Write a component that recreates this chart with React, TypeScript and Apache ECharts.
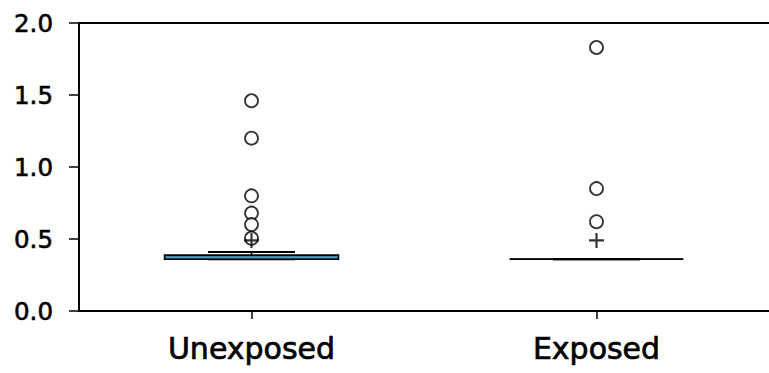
import React, { useEffect, useRef } from "react";
import * as echarts from "echarts";

const categories = ["Unexposed", "Exposed"];
const whiskerLow = [0.36, 0.36];
const q1 = [0.36, 0.36];
const median = [0.37, 0.36];
const q3 = [0.388, 0.36];
const whiskerHigh = [0.41, 0.36];
const means = [0.49, 0.49];
const outliersUnexposed = [1.46, 1.2, 0.8, 0.68, 0.6, 0.505];
const outliersExposed = [1.83, 0.85, 0.62];
const yMin = 0;
const yMax = 2;
const yInterval = 0.5;

const FONT = "DejaVu Sans";

export default function App() {
  const ref = useRef<HTMLDivElement>(null);
  useEffect(() => {
    document.body.style.margin = "0";
    if (!ref.current) return;
    const chart = echarts.init(ref.current, null, { renderer: "svg" });
    const boxData = categories.map((_, i) => [
      i,
      whiskerLow[i],
      q1[i],
      median[i],
      q3[i],
      whiskerHigh[i],
    ]);
    const outlierData = [
      ...outliersUnexposed.map((v) => [0, v]),
      ...outliersExposed.map((v) => [1, v]),
    ];
    const meanData = means.map((v, i) => [i, v]);
    chart.setOption({
      animation: false,
      backgroundColor: "#ffffff",
      grid: { left: 79, right: 0, top: 23, bottom: 62, containLabel: false },
      xAxis: [
        {
          type: "category",
          data: categories,
          boundaryGap: true,
          axisLine: { show: true, lineStyle: { color: "#000", width: 2 } },
          axisTick: {
            show: true,
            alignWithLabel: true,
            length: 8,
            lineStyle: { color: "#000", width: 1.5 },
          },
          axisLabel: {
            color: "#000",
            fontFamily: FONT,
            fontSize: 30,
            margin: 22,
            textBorderColor: "#000",
            textBorderWidth: 0.7,
          },
          splitLine: { show: false },
        },
        {
          type: "category",
          data: categories,
          position: "top",
          axisLine: { show: true, lineStyle: { color: "#000", width: 2 } },
          axisTick: { show: false },
          axisLabel: { show: false },
          splitLine: { show: false },
        },
      ],
      yAxis: {
        type: "value",
        min: yMin,
        max: yMax,
        interval: yInterval,
        axisLine: { show: true, lineStyle: { color: "#000", width: 2 } },
        axisTick: {
          show: true,
          inside: false,
          length: 10,
          lineStyle: { color: "#000", width: 1.5 },
        },
        axisLabel: {
          color: "#000",
          fontFamily: FONT,
          fontSize: 24.5,
          margin: 26,
          textBorderColor: "#000",
          textBorderWidth: 0.6,
          formatter: (v: number) => v.toFixed(1),
        },
        splitLine: { show: false },
      },
      series: [
        {
          type: "custom",
          data: boxData,
          z: 2,
          renderItem: (params: any, api: any) => {
            const idx = api.value(0);
            const lo = api.coord([idx, api.value(1)]);
            const b1 = api.coord([idx, api.value(2)]);
            const md = api.coord([idx, api.value(3)]);
            const b3 = api.coord([idx, api.value(4)]);
            const hi = api.coord([idx, api.value(5)]);
            const band = api.size([1, 0])[0];
            const half = band * 0.252;
            const cap = band * 0.126;
            const cx = lo[0];
            const lineStyle = { stroke: "#000", lineWidth: 1.5 };
            return {
              type: "group",
              children: [
                {
                  type: "line",
                  shape: { x1: cx, y1: b3[1], x2: cx, y2: hi[1] },
                  style: lineStyle,
                },
                {
                  type: "line",
                  shape: { x1: cx, y1: b1[1], x2: cx, y2: lo[1] },
                  style: lineStyle,
                },
                {
                  type: "line",
                  shape: { x1: cx - cap, y1: hi[1], x2: cx + cap, y2: hi[1] },
                  style: { stroke: "#000", lineWidth: 2 },
                },
                {
                  type: "line",
                  shape: { x1: cx - cap, y1: lo[1], x2: cx + cap, y2: lo[1] },
                  style: { stroke: "#000", lineWidth: 2 },
                },
                {
                  type: "polygon",
                  shape: {
                    points: [
                      [cx - half, b3[1]],
                      [cx + half, b3[1]],
                      [cx + half, b1[1]],
                      [cx - half, b1[1]],
                    ],
                  },
                  style: { fill: "#3f86a6", stroke: "#000", lineWidth: 1.6 },
                },
                {
                  type: "line",
                  shape: { x1: cx - half + 1, y1: md[1], x2: cx + half - 1, y2: md[1] },
                  style: { stroke: b1[1] - b3[1] > 2 ? "#5aa3c3" : "#000", lineWidth: 1 },
                },
              ],
            };
          },
        },
        {
          type: "scatter",
          data: outlierData,
          symbol: "circle",
          symbolSize: 13,
          z: 3,
          itemStyle: { color: "#fff", borderColor: "#000", borderWidth: 1.8 },
        },
        {
          type: "scatter",
          data: meanData,
          symbol: "path://M6,0H8V6H14V8H8V14H6V8H0V6H6Z",
          symbolSize: 15,
          z: 4,
          itemStyle: { color: "#000" },
        },
      ],
    });
    return () => chart.dispose();
  }, []);
  return <div ref={ref} style={{ width: 769, height: 373 }} />;
}
